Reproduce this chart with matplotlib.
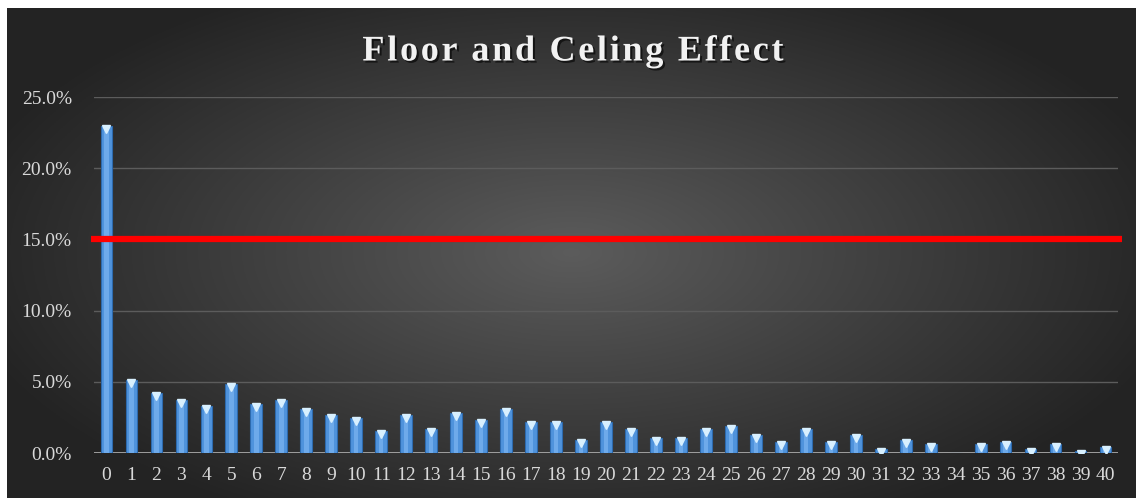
import numpy as np
import matplotlib
matplotlib.use("Agg")
import matplotlib.pyplot as plt
import matplotlib.patheffects as pe
from matplotlib.ticker import FuncFormatter
from matplotlib.transforms import offset_copy

# share of answers per score (in %)
scores = list(range(41))
shares = [22.94, 5.15, 4.21, 3.75, 3.28, 4.85, 3.44, 3.75, 3.12, 2.65,
          2.49, 1.54, 2.65, 1.71, 2.81, 2.32, 3.12, 2.18, 2.18, 0.91,
          2.18, 1.71, 1.08, 1.08, 1.71, 1.87, 1.24, 0.77, 1.71, 0.77,
          1.24, 0.28, 0.91, 0.61, 0.0, 0.61, 0.77, 0.28, 0.61, 0.14,
          0.45]
threshold = 15.0
title = "Floor and Celing Effect"

plt.rcParams['font.family'] = ['Liberation Serif', 'DejaVu Serif']

fig = plt.figure(figsize=(11.36, 4.98), dpi=100)
fig.patch.set_facecolor("white")

# dark radial gradient background
bg = fig.add_axes([7 / 1136, 0, 1 - 7 / 1136, 1 - 8 / 498])
bg.set_axis_off()
gx, gy = np.meshgrid(np.linspace(-1, 1, 600), np.linspace(-1, 1, 300))
r = np.sqrt((gx / 1.0) ** 2 + (gy / 1.1) ** 2)
shade = np.clip(0.36 - 0.20 * r, 0.14, 1)
bg.imshow(np.dstack([shade] * 3), aspect="auto", extent=[0, 1, 0, 1])

ax = fig.add_axes([94 / 1136, 1 - 453 / 498, 1024 / 1136, 356 / 498])
ax.set_facecolor("none")

x = np.array(scores)
y = np.array(shares) / 100
ax.bar(x, y, width=0.47, color="#4f93dc", edgecolor="#2d6aad",
       linewidth=0.8, zorder=3)
ax.bar(x, y, width=0.18, color="#6eaaea", linewidth=0, zorder=3)
tri = offset_copy(ax.transData, fig=fig, x=0, y=-3, units="dots")
ax.plot(x[y > 0], y[y > 0], linestyle="none", marker="v", markersize=6,
        color="#d8f0ff", transform=tri, zorder=4)

ax.plot([-0.62, 40.66], [threshold / 100] * 2, color="#ff0000",
        linewidth=4.5, clip_on=False, zorder=5, solid_capstyle="butt")

ax.set_xlim(-0.5, 40.5)
ax.set_ylim(0, 0.25)
ax.set_yticks(np.arange(0, 0.251, 0.05))
ax.yaxis.set_major_formatter(FuncFormatter(lambda v, p: "%.1f%%" % (v * 100)))
ax.set_xticks(x)
ax.set_xticklabels([str(s) for s in scores])
ax.grid(axis="y", color="#5c5c5c", linewidth=1, zorder=0)
ax.axhline(0, color="#a8a8a8", linewidth=2, zorder=2)
for s in ax.spines.values():
    s.set_visible(False)
ax.tick_params(length=0, colors="#d9d9d9", labelsize=14)
ax.tick_params(axis="x", pad=10)
ax.tick_params(axis="y", pad=16)

# letter-spaced title, drawn char by char
renderer = fig.canvas.get_renderer()
tstyle = dict(fontsize=26, fontweight="bold")
track = 2.7
probe = fig.text(0, 0, title, **tstyle)
full_w = probe.get_window_extent(renderer).width
probe.remove()
total_w = full_w + track * (len(title) - 1)
left = 573 - total_w / 2
shadow = [pe.withSimplePatchShadow(offset=(1.5, -1.5), shadow_rgbFace="black",
                                   alpha=0.6)]
for i, ch in enumerate(title):
    if i:
        p = fig.text(0, 0, title[:i] + "|", **tstyle)
        bar_w = fig.text(0, 0, "|", **tstyle)
        w = (p.get_window_extent(renderer).width
             - bar_w.get_window_extent(renderer).width)
        p.remove()
        bar_w.remove()
    else:
        w = 0
    if ch == " ":
        continue
    fig.text((left + w + track * i) / 1136, 1 - 48 / 498, ch, ha="left",
             va="center_baseline", color="#f2f2f2", path_effects=shadow,
             **tstyle)

fig.savefig("out.png", dpi=100)
